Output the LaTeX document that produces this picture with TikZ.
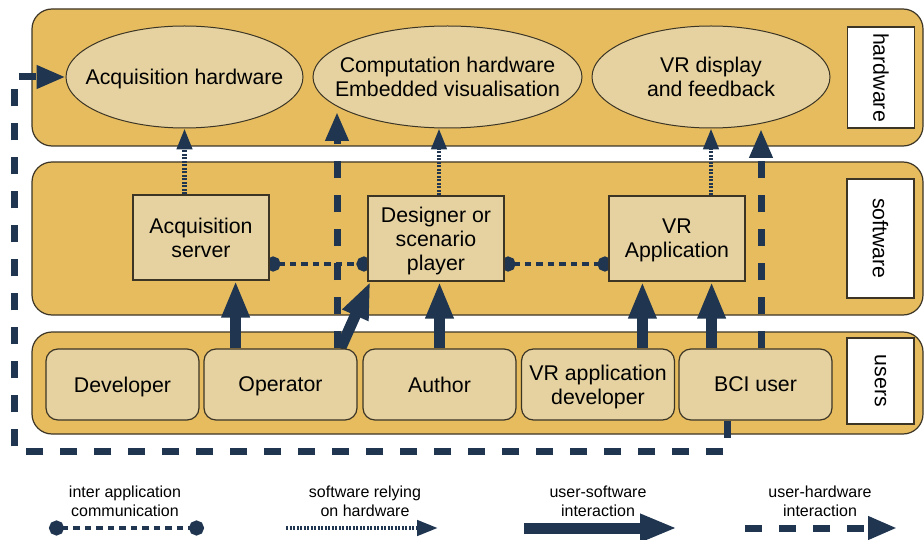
\documentclass[tikz,border=0pt]{standalone}
\usepackage{fontspec}
\setmainfont{Liberation Sans}
\usetikzlibrary{arrows.meta,shapes.geometric}
\definecolor{bandgold}{HTML}{E6BC5F}
\definecolor{boxbeige}{HTML}{E5D2A0}
\definecolor{navy}{HTML}{1F3550}
\definecolor{edgegrey}{HTML}{3C3526}
\pgfdeclarelayer{back}
\pgfdeclarelayer{links}
\pgfsetlayers{back,links,main}
\tikzset{
  band/.style={draw=edgegrey, line width=1.2pt, fill=bandgold, rounded corners=20pt},
  hwnode/.style={ellipse, draw=edgegrey, line width=1pt, fill=boxbeige, inner sep=0pt,
    minimum height=102pt},
  hwtext/.style={align=center, text depth=0pt},
  swnode/.style={rectangle, draw=edgegrey, line width=1.2pt, fill=boxbeige, inner sep=0pt,
    minimum width=136pt, minimum height=85pt, align=center, text depth=0pt},
  usernode/.style={rectangle, rounded corners=12pt, draw=edgegrey, line width=1.2pt,
    fill=boxbeige, inner sep=0pt, minimum width=153pt, minimum height=71pt, align=center,
    text depth=0pt},
  layerlbl/.style={rectangle, draw=edgegrey, line width=1.2pt, fill=white, rotate=-90,
    inner sep=0pt, minimum height=67pt},
  legtext/.style={font=\fontsize{16}{19}\selectfont, align=center},
  iapp/.style={navy, line width=4.3pt, dash pattern=on 6.5pt off 5pt,
    {Circle[length=15pt]}-{Circle[length=15pt]}},
  swhw/.style={navy, line width=4.5pt, dash pattern=on 2pt off 1.5pt,
    -{Triangle[length=21pt,width=15pt]}},
  usw/.style={navy, line width=11pt, -{Triangle[length=37pt,width=26pt]}},
  uhw/.style={navy, line width=7pt, dash pattern=on 17pt off 17pt,
    -{Triangle[length=29pt,width=22pt]}}
}
\begin{document}
\begin{tikzpicture}[x=1pt, y=-1pt, font=\fontsize{21.3}{24}\selectfont]
  \useasboundingbox (0,0) rectangle (924,540);
  % the three bands
  \begin{pgfonlayer}{back}
    \draw[band] (32,9) rectangle (923,146);
    \draw[band] (32,162) rectangle (923,315);
    \draw[band] (32,332) rectangle (923,434);
  \end{pgfonlayer}
  \node[layerlbl, minimum width=101pt] (hwlbl) at (881,77.5) {hardware};
  \node[layerlbl, minimum width=119pt] (swlbl) at (880.5,238.5) {software};
  \node[layerlbl, minimum width=86pt] (userlbl) at (880.5,381) {users};
  % hardware
  \node[hwnode, minimum width=237pt] (acqhw) at (184.5,77) {};
  \node[hwtext] (acqhwtext) at (acqhw.center) {Acquisition hardware};
  \node[hwnode, minimum width=269pt] (comphw) at (447.5,77) {};
  \node[hwtext] (comphwtext) at (comphw.center) {Computation hardware\\Embedded visualisation};
  \node[hwnode, minimum width=238pt] (vrhw) at (711,77) {};
  \node[hwtext] (vrhwtext) at (vrhw.center) {VR display\\and feedback};
  % software
  \node[swnode] (acqsrv) at (201,237.5) {Acquisition\\server};
  \node[swnode] (designer) at (436,238.5) {Designer or\\scenario\\player};
  \node[swnode] (vrapp) at (677,238.5) {VR\\Application};
  % users
  \node[usernode] (dev) at (122.5,384.5) {Developer};
  \node[usernode] (op) at (280.5,384.5) {Operator};
  \node[usernode] (author) at (439.5,384.5) {Author};
  \node[usernode] (vrdev) at (598,384.5) {VR application\\developer};
  \node[usernode] (bci) at (755.5,384.5) {BCI user};
  \coordinate (comptip) at (337,112);
  \coordinate (vrtip) at (761,129);
  \coordinate (loopbl) at (14,451);
  % connectors
  \begin{pgfonlayer}{links}
    \draw[swhw] (acqsrv.north -| acqhw.south) -- (acqhw.south);
    \draw[swhw] ([xshift=3pt]designer.north) -- ([xshift=3pt]designer.north |- comphw.south);
    \draw[swhw] (vrapp.north -| vrhw.south) -- (vrhw.south);
    \draw[iapp, shorten <=-4pt, shorten >=-4pt] ([yshift=-26.5pt]acqsrv.east) -- ([yshift=-25.5pt]designer.west);
    \draw[iapp, shorten <=-4pt, shorten >=-4pt] ([yshift=-25.5pt]designer.east) -- ([yshift=-25.5pt]vrapp.west);
    \draw[usw] ([xshift=-34pt]acqsrv.south east |- op.north) -- ([xshift=-34pt]acqsrv.south east);
    \draw[usw] ([xshift=-17pt]op.north east) -- ([xshift=3pt]designer.south west);
    \draw[usw] (author.north) -- (author.north |- designer.south);
    \draw[usw] ([xshift=34pt]vrapp.south west |- vrdev.north) -- ([xshift=34pt]vrapp.south west);
    \draw[usw] ([xshift=-34pt]vrapp.south east |- bci.north) -- ([xshift=-34pt]vrapp.south east);
    \draw[uhw] (op.north -| comptip) -- (comptip);
    \draw[uhw] (bci.north -| vrtip) -- (vrtip);
    \draw[uhw] ([xshift=-28.5pt]bci.south) |- (loopbl) |- (acqhw.west);
  \end{pgfonlayer}
  % legend
  \node[legtext] (legiapp) at (125,501) {inter application\\communication};
  \node[legtext] (legswhw) at (365,501) {software relying\\on hardware};
  \node[legtext] (legusw) at (598,501) {user-software\\interaction};
  \node[legtext] (leguhw) at (820,501) {user-hardware\\interaction};
  \coordinate (iappa) at (49,528);
  \coordinate (iappb) at (204,528);
  \coordinate (swhwa) at (286,528);
  \coordinate (swhwb) at (438,528);
  \coordinate (uswa) at (524,528);
  \coordinate (uswb) at (677,528);
  \coordinate (uhwa) at (745,528);
  \coordinate (uhwb) at (897,528);
  \draw[iapp] (iappa) -- (iappb);
  \draw[swhw] (swhwa) -- (swhwb);
  \draw[usw] (uswa) -- (uswb);
  \draw[uhw] (uhwa) -- (uhwb);
\end{tikzpicture}
\end{document}
